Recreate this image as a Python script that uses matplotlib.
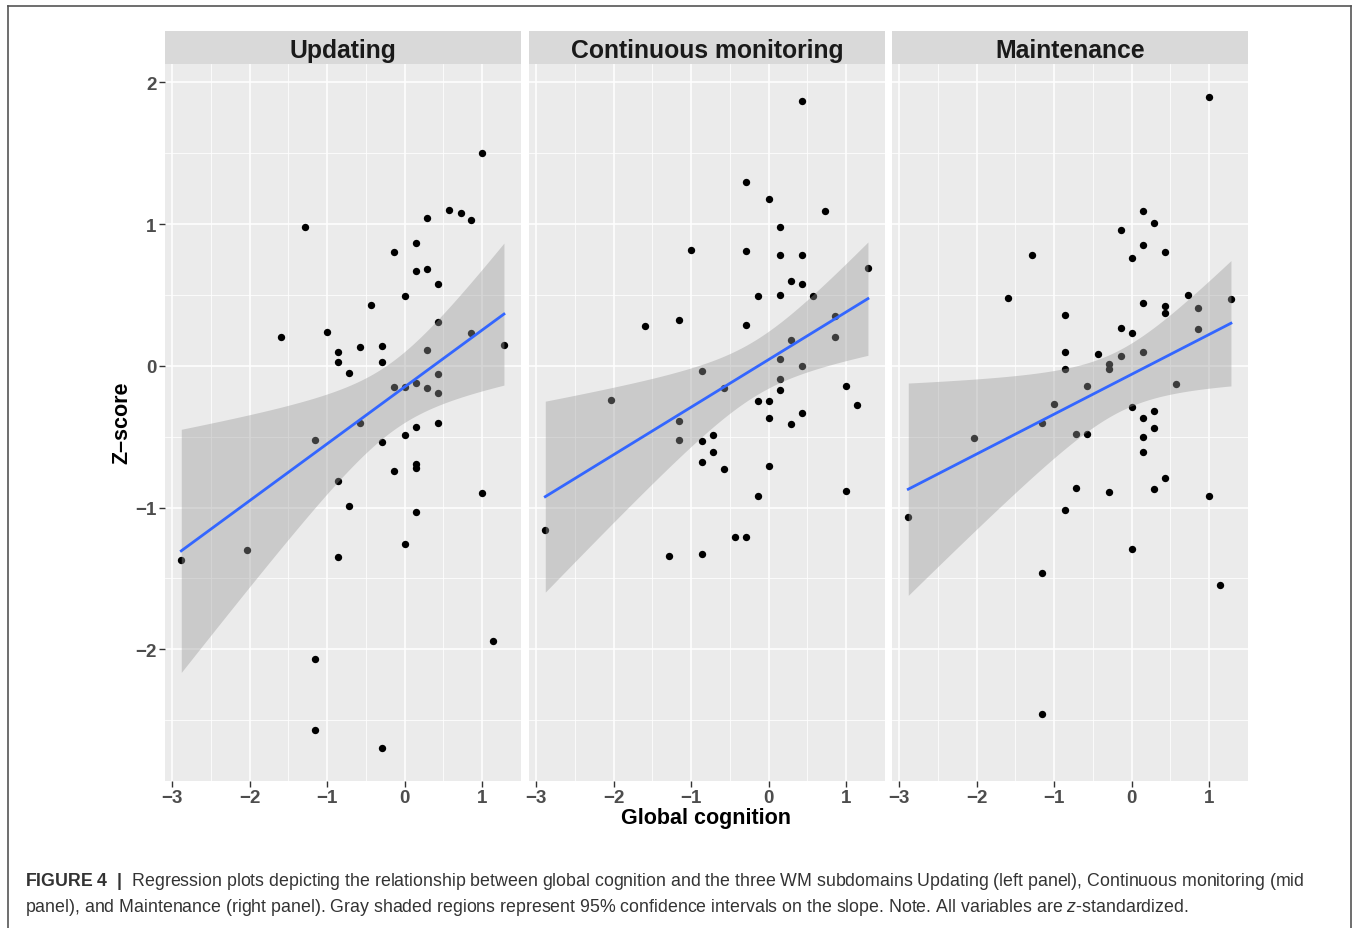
import numpy as np
import matplotlib
matplotlib.use("Agg")
import matplotlib.pyplot as plt
from matplotlib.lines import Line2D

# Facet titles
panels = ["Updating", "Continuous monitoring", "Maintenance"]

# Updating: global cognition (x) vs z-score (y)
upd_x = [1.00, 0.57, 0.72, 0.86, 0.29, -1.29, 0.14, -0.14, 0.14, 0.29,
         0.43, 0.00, -0.43, 0.43, 0.86, 1.28, -1.59, -1.00, -0.86, -0.86,
         -0.57, -0.29, -0.29, -0.72, 0.29, 0.43, -0.14, 0.00, 0.14, 0.29,
         0.43, -0.57, 0.14, 0.43, -1.15, -0.29, 0.00, -0.14, 0.14, 0.14,
         -0.86, -0.72, 0.14, 1.00, 0.00, -2.03, -2.88, -0.86, 1.14, -1.15,
         -1.15, -0.29]
upd_y = [1.50, 1.10, 1.08, 1.03, 1.04, 0.98, 0.87, 0.80, 0.67, 0.68,
         0.58, 0.49, 0.43, 0.31, 0.23, 0.15, 0.20, 0.24, 0.10, 0.03,
         0.13, 0.14, 0.03, -0.05, 0.11, -0.06, -0.15, -0.15, -0.12, -0.16,
         -0.19, -0.40, -0.43, -0.40, -0.52, -0.54, -0.49, -0.74, -0.69, -0.72,
         -0.81, -0.99, -1.03, -0.90, -1.26, -1.30, -1.37, -1.35, -1.94, -2.07,
         -2.57, -2.70]

# Continuous monitoring
mon_x = [0.43, -0.29, 0.00, 0.72, 0.14, -1.00, -0.29, 0.14, 0.43, 1.28,
         0.29, 0.43, -0.14, 0.14, 0.57, -1.59, -1.15, -0.29, 0.86, 0.86,
         0.29, 0.14, 0.43, -0.86, 0.14, -0.57, 0.14, 1.00, -2.03, -0.14,
         0.00, 1.14, 0.43, 0.00, -1.15, 0.29, -1.15, -0.86, -0.72, -0.72,
         -0.86, -0.57, 0.00, -0.14, 1.00, -2.88, -0.43, -0.29, -1.29, -0.86]
mon_y = [1.87, 1.30, 1.18, 1.09, 0.98, 0.82, 0.81, 0.78, 0.78, 0.69,
         0.60, 0.58, 0.49, 0.50, 0.49, 0.28, 0.32, 0.29, 0.35, 0.20,
         0.18, 0.05, 0.00, -0.04, -0.09, -0.16, -0.17, -0.14, -0.24, -0.25,
         -0.25, -0.28, -0.33, -0.37, -0.39, -0.41, -0.52, -0.53, -0.49, -0.61,
         -0.68, -0.73, -0.71, -0.92, -0.88, -1.16, -1.21, -1.21, -1.34, -1.33]

# Maintenance
mnt_x = [1.00, 0.14, 0.29, -0.14, 0.14, 0.43, 0.00, -1.29, -1.59, 0.72,
         1.28, 0.14, 0.43, 0.43, 0.86, 0.86, -0.86, -0.14, 0.00, -0.86,
         -0.43, -0.14, 0.14, -0.86, -0.29, -0.29, -0.57, 0.57, -1.00, 0.00,
         0.29, 0.14, -1.15, 0.29, 0.14, -0.72, -0.57, -2.03, 0.14, 0.43,
         -0.72, -0.29, 0.29, 1.00, -0.86, -2.88, 0.00, -1.15, 1.14, -1.15]
mnt_y = [1.90, 1.09, 1.01, 0.96, 0.85, 0.80, 0.76, 0.78, 0.48, 0.50,
         0.47, 0.44, 0.42, 0.37, 0.41, 0.26, 0.36, 0.27, 0.23, 0.10,
         0.08, 0.07, 0.10, -0.02, 0.01, -0.02, -0.14, -0.13, -0.27, -0.29,
         -0.32, -0.37, -0.40, -0.44, -0.50, -0.48, -0.48, -0.51, -0.61, -0.79,
         -0.86, -0.89, -0.87, -0.92, -1.02, -1.07, -1.29, -1.46, -1.55, -2.46]

T_CRIT = 2.01  # t quantile (0.975) for ~50 df

plt.rcParams["font.family"] = ["Liberation Sans", "DejaVu Sans"]
plt.rcParams["mathtext.fontset"] = "custom"
plt.rcParams["mathtext.rm"] = "Liberation Sans"
plt.rcParams["mathtext.bf"] = "Liberation Sans:bold"
plt.rcParams["mathtext.it"] = "Liberation Sans:italic"

W, H = 1354, 929
fig = plt.figure(figsize=(W / 100, H / 100), dpi=100)


def box(left, top, right, bottom):
    # pixel box -> figure fraction rect
    return [left / W, 1 - bottom / H, (right - left) / W, (bottom - top) / H]


lefts = [165, 529, 892]
data = [(upd_x, upd_y), (mon_x, mon_y), (mnt_x, mnt_y)]

for i, (name, (xv, yv)) in enumerate(zip(panels, data)):
    x = np.asarray(xv)
    y = np.asarray(yv)
    left = lefts[i]

    ax = fig.add_axes(box(left, 65, left + 356, 782))
    ax.set_facecolor("#EBEBEB")

    ax.scatter(x, y, s=28, color="black", linewidths=0, zorder=3)

    # linear fit with 95% confidence band (like geom_smooth(method = "lm"))
    slope, icpt = np.polyfit(x, y, 1)
    n = len(x)
    resid = y - (icpt + slope * x)
    s = np.sqrt(np.sum(resid ** 2) / (n - 2))
    xs = np.linspace(x.min(), x.max(), 100)
    fit = icpt + slope * xs
    se = s * np.sqrt(1 / n + (xs - x.mean()) ** 2 / np.sum((x - x.mean()) ** 2))
    ax.fill_between(xs, fit - T_CRIT * se, fit + T_CRIT * se,
                    color="#999999", alpha=0.4, linewidth=0, zorder=4)
    ax.plot(xs, fit, color="#3366FF", lw=2.0, zorder=5)

    ax.set_xlim(-3.09, 1.49)
    ax.set_ylim(-2.93, 2.13)
    ax.set_xticks([-3, -2, -1, 0, 1])
    ax.set_xticks([-2.5, -1.5, -0.5, 0.5, 1.5], minor=True)
    ax.set_yticks([-2, -1, 0, 1, 2])
    ax.set_yticks([-2.5, -1.5, -0.5, 0.5, 1.5], minor=True)
    ax.set_axisbelow(True)
    ax.grid(which="major", color="white", lw=1.1)
    ax.grid(which="minor", color="white", lw=0.55)
    for sp in ax.spines.values():
        sp.set_visible(False)
    ax.tick_params(which="minor", length=0)
    ax.tick_params(which="major", length=4, width=1, color="#333333",
                   labelsize=13.5, labelcolor="#4D4D4D", pad=2)
    if i > 0:
        ax.tick_params(axis="y", length=0, labelleft=False)
    for lab in ax.get_xticklabels() + ax.get_yticklabels():
        lab.set_fontweight("bold")

    strip = fig.add_axes(box(left, 32, left + 356, 65))
    strip.set_facecolor("#D9D9D9")
    strip.set_xticks([])
    strip.set_yticks([])
    for sp in strip.spines.values():
        sp.set_visible(False)
    strip.text(0.5, 0.42, name, ha="center", va="center",
               fontsize=17.8, fontweight="bold", color="#1A1A1A")

fig.text(122 / W, 1 - 423 / H, "Z–score", rotation=90, ha="center",
         va="center", fontsize=15.5, fontweight="bold")
fig.text(706 / W, 1 - 819 / H, "Global cognition", ha="center",
         va="center", fontsize=15.5, fontweight="bold")

# frame around the figure
frame_kw = dict(color="#555555", lw=1.2, transform=fig.transFigure)
fig.add_artist(Line2D([8 / W, 8 / W], [0, 1 - 7 / H], **frame_kw))
fig.add_artist(Line2D([8 / W, 1351 / W], [1 - 7 / H, 1 - 7 / H], **frame_kw))
fig.add_artist(Line2D([1351 / W, 1351 / W], [0, 1 - 7 / H], **frame_kw))

cap1 = (r"$\mathbf{FIGURE\ 4\ \ |\ \ }$Regression plots depicting the relationship "
        "between global cognition and the three WM subdomains Updating (left panel), "
        "Continuous monitoring (mid")
cap2 = ("panel), and Maintenance (right panel). Gray shaded regions represent 95% "
        r"confidence intervals on the slope. Note. All variables are $\mathit{z}$-standardized.")
fig.text(25 / W, 1 - 882 / H, cap1, ha="left", va="center", fontsize=12.8,
         color="#333333")
fig.text(25 / W, 1 - 908 / H, cap2, ha="left", va="center", fontsize=12.8,
         color="#333333")

fig.savefig("out.png", dpi=100)
plt.close()
